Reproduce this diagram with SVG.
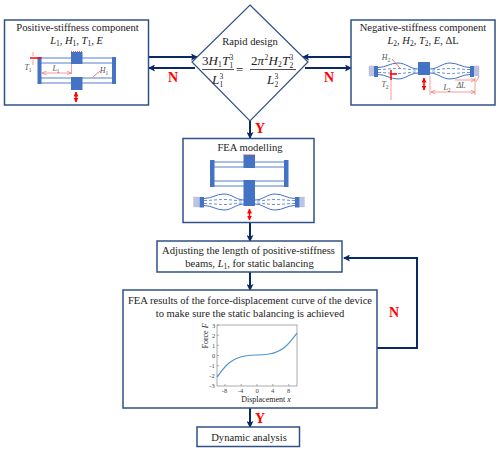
<svg xmlns="http://www.w3.org/2000/svg" xmlns:xlink="http://www.w3.org/1999/xlink" width="500" height="451" viewBox="0 0 500 451">
<style>
text{font-family:"Liberation Serif","Times New Roman",serif;fill:#222;text-anchor:middle}
.t{font-size:10.6px}
.m{font-size:10.5px;font-style:italic}
.s{font-size:7.5px;font-style:normal}
.f{font-size:13px;font-style:italic;text-anchor:start}
.fs{font-size:7.5px;font-style:normal}
.fn{font-style:normal}
.sm{font-size:8px;font-style:italic;fill:#555}
.ss{font-size:5.5px;font-style:normal}
.box{fill:#fff;stroke:#2f5187;stroke-width:1.5}
.con{fill:none;stroke:#0b2a63;stroke-width:2}
.lab{font-size:14px;font-weight:bold;fill:#f00}
.bar{fill:#4472c4}
.beam{fill:none;stroke:#8faadc;stroke-width:1.4}
.cb{fill:none;stroke:#4472c4;stroke-width:1}
.cd{fill:none;stroke:#4472c4;stroke-width:.8;stroke-dasharray:3 2}
.pale{fill:#b4c7e7;stroke:#f4a0a0;stroke-width:.6;stroke-dasharray:1 1}
.hatch{fill:none;stroke:#f05050;stroke-width:1;stroke-dasharray:1 1}
.dim{fill:none;stroke:#f79a9a;stroke-width:1}
.red{fill:none;stroke:#f00;stroke-width:1.5}
.axis{fill:none;stroke:#888;stroke-width:.7}
.tick{font-size:6.5px;fill:#444}
</style>
<defs>
<marker id="ah" markerWidth="7" markerHeight="7" refX="6" refY="3.5" orient="auto" markerUnits="userSpaceOnUse"><path d="M0,0L7,3.5L0,7L1.5,3.500Z" fill="#0b2a63"/></marker>
<marker id="rd" markerWidth="5" markerHeight="5" refX="4.5" refY="2.5" orient="auto-start-reverse" markerUnits="userSpaceOnUse"><path d="M0,0L5,2.5L0,5Z" fill="#f00"/></marker>
<marker id="pd" markerWidth="5" markerHeight="5" refX="4.5" refY="2.5" orient="auto-start-reverse" markerUnits="userSpaceOnUse"><path d="M0,.5L4.5,2.5L0,4.5" fill="none" stroke="#f57f7f" stroke-width=".8"/></marker>
<g id="curved">
<path class="cb" d="M0,-3.5C8,-3.5 12,-8 20,-8C28,-8 32,-2 40,-2"/>
<path class="cb" d="M0,3.5C8,3.5 12,8 20,8C28,8 32,2 40,2"/>
<path class="cd" d="M0,-1.5C8,-1.5 12,-2.5 20,-2.5C28,-2.5 32,-1 40,-1"/>
<path class="cd" d="M0,1.5C8,1.5 12,2.5 20,2.5C28,2.5 32,1 40,1"/>
</g>
</defs>

<g id="connectors">
<path class="con" d="M149,57H197" marker-end="url(#ah)"/>
<path class="con" d="M195,68H149" marker-end="url(#ah)"/>
<path class="con" d="M351,57H303" marker-end="url(#ah)"/>
<path class="con" d="M305,68H351" marker-end="url(#ah)"/>
<path class="con" d="M250,121V138" marker-end="url(#ah)"/>
<path class="con" d="M250,222V241" marker-end="url(#ah)"/>
<path class="con" d="M250,272V290" marker-end="url(#ah)"/>
<path class="con" d="M250,408V427" marker-end="url(#ah)"/>
<path class="con" d="M377,348H417V258H344" marker-end="url(#ah)"/>
<text class="lab" x="173" y="82">N</text>
<text class="lab" x="329" y="82">N</text>
<text class="lab" x="260" y="133">Y</text>
<text class="lab" x="260" y="423">Y</text>
<text class="lab" x="394" y="317">N</text>
</g>

<g id="positive-stiffness">
<rect class="box" x="4.5" y="20" width="144" height="85"/>
<text class="t" x="77.5" y="31">Positive-stiffness component</text>
<text class="m" x="76.5" y="43.500">L<tspan class="s" dy="2">1</tspan><tspan dy="-2" font-style="normal">, </tspan>H<tspan class="s" dy="2">1</tspan><tspan dy="-2" font-style="normal">, </tspan>T<tspan class="s" dy="2">1</tspan><tspan dy="-2" font-style="normal">, </tspan>E</text>
<path class="beam" d="M41,58H71M82,58H112M41,63H71M82,63H112M41,78H71M82,78H112M41,83H71M82,83H112"/>
<rect class="bar" x="37.5" y="57" width="4" height="27"/>
<rect class="bar" x="112" y="57" width="4" height="27"/>
<rect class="bar" x="71" y="52" width="11.5" height="12"/>
<rect class="bar" x="71" y="77" width="11.5" height="13"/>
<path class="hatch" d="M71,51.5H82.5"/>
<path class="red" d="M30,58H41.5"/>
<path class="dim" d="M33,52V56M33,60V65"/>
<path class="dim" d="M42,73H71" marker-start="url(#pd)" marker-end="url(#pd)"/>
<path class="dim" d="M71.500,64V74"/>
<path d="M93,77L100,71" fill="none" stroke="#f05050" stroke-width=".8"/>
<text class="sm" x="28" y="70">T<tspan class="ss" dy="2">1</tspan></text>
<text class="sm" x="56" y="71">L<tspan class="ss" dy="2">1</tspan></text>
<text class="sm" x="104" y="73">H<tspan class="ss" dy="2">1</tspan></text>
<path class="red" d="M76,92V102" marker-start="url(#rd)" marker-end="url(#rd)"/>
</g>

<g id="negative-stiffness">
<rect class="box" x="351" y="20" width="144" height="85"/>
<text class="t" x="423" y="31">Negative-stiffness component</text>
<text class="m" x="423" y="43.500">L<tspan class="s" dy="2">2</tspan><tspan dy="-2" font-style="normal">, </tspan>H<tspan class="s" dy="2">2</tspan><tspan dy="-2" font-style="normal">, </tspan>T<tspan class="s" dy="2">2</tspan><tspan dy="-2" font-style="normal">, </tspan>E<tspan font-style="normal">, ΔL</tspan></text>
<use xlink:href="#curved" href="#curved" x="378" y="71"/>
<use xlink:href="#curved" href="#curved" transform="translate(470,71) scale(-1,1)"/>
<rect class="pale" x="369" y="66" width="5" height="10"/>
<rect class="pale" x="474" y="66" width="5" height="10"/>
<rect class="bar" x="374" y="66" width="4" height="11"/>
<rect class="bar" x="470" y="66" width="4" height="11"/>
<rect class="bar" x="418" y="62" width="12" height="13"/>
<path class="red" d="M390,74H397M391,70V80"/>
<path class="dim" d="M391,80V100"/>
<path d="M392,59L400,68" fill="none" stroke="#f05050" stroke-width=".8"/>
<text class="sm" x="386" y="60">H<tspan class="ss" dy="2">2</tspan></text>
<text class="sm" x="385" y="87">T<tspan class="ss" dy="2">2</tspan></text>
<path class="red" d="M424,78V90" marker-start="url(#rd)" marker-end="url(#rd)"/>
<path class="dim" d="M430,76V95M475,78V95"/>
<path class="dim" d="M431,92H475" marker-start="url(#pd)" marker-end="url(#pd)"/>
<path class="dim" d="M455,80H475" marker-end="url(#pd)"/>
<path class="dim" d="M479,76L476,82"/>
<text class="sm" x="447" y="90">L<tspan class="ss" dy="2">2</tspan></text>
<text class="sm" x="461" y="88">ΔL</text>
</g>

<g id="rapid-design">
<path d="M250,5L308,62L250,121L192,62Z" fill="#fff" stroke="#2f5187" stroke-width="1.2"/>
<text class="t" x="250" y="45">Rapid design</text>
<text class="f"><tspan class="fn" x="202" y="65">3</tspan><tspan x="208.500" y="65">H</tspan><tspan class="fs" x="218" y="67">1</tspan><tspan x="222" y="65">T</tspan><tspan class="fs" x="229.500" y="67.500">1</tspan><tspan class="fs" x="229.500" y="59.500">3</tspan></text>
<path d="M202,69.500H234M250,69.500H296" stroke="#222" stroke-width=".8" fill="none"/>
<text class="f"><tspan x="212" y="84">L</tspan><tspan class="fs" x="219.500" y="86.500">1</tspan><tspan class="fs" x="219.500" y="78.500">3</tspan></text>
<text class="f fn" x="236" y="74">=</text>
<text class="f"><tspan class="fn" x="251" y="65">2</tspan><tspan x="257.500" y="65">π</tspan><tspan class="fs" x="264.500" y="59.500">2</tspan><tspan x="268.500" y="65">H</tspan><tspan class="fs" x="278" y="67">2</tspan><tspan x="282" y="65">T</tspan><tspan class="fs" x="289.500" y="67.500">2</tspan><tspan class="fs" x="289.500" y="59.500">3</tspan></text>
<text class="f"><tspan x="267" y="84">L</tspan><tspan class="fs" x="274.500" y="86.500">2</tspan><tspan class="fs" x="274.500" y="78.500">3</tspan></text>
</g>

<g id="fea-modelling">
<rect class="box" x="183" y="138.500" width="131" height="84"/>
<text class="t" x="250" y="151">FEA modelling</text>
<path class="beam" d="M214,162H244M255,162H285M214,167H244M255,167H285M214,181H244M255,181H285M214,186H244M255,186H285"/>
<rect class="bar" x="210" y="160" width="4.500" height="27"/>
<rect class="bar" x="284" y="160" width="4.500" height="27"/>
<rect class="bar" x="243.500" y="155" width="11.500" height="13"/>
<rect class="bar" x="243.500" y="180" width="11.500" height="26"/>
<path class="hatch" d="M243.500,154.500H255"/>
<use xlink:href="#curved" href="#curved" x="204" y="202"/>
<use xlink:href="#curved" href="#curved" transform="translate(295,202) scale(-1,1)"/>
<rect class="pale" x="193.500" y="197" width="5.500" height="10"/>
<rect class="pale" x="299.500" y="197" width="5" height="10"/>
<rect class="bar" x="199.500" y="197" width="4.500" height="10.500"/>
<rect class="bar" x="295" y="197" width="4.500" height="10.500"/>
<path class="red" d="M249.500,209V220" marker-start="url(#rd)" marker-end="url(#rd)"/>
</g>

<g id="adjusting">
<rect class="box" x="157" y="241" width="185" height="31"/>
<text class="t" x="248.500" y="254">Adjusting the length of positive-stiffness</text>
<text class="t" x="249.500" y="267">beams, <tspan class="m">L</tspan><tspan class="s" dy="2">1</tspan><tspan dy="-2">, for static balancing</tspan></text>
</g>

<g id="fea-results">
<rect class="box" x="123" y="290" width="254" height="118"/>
<text class="t" x="250" y="304">FEA results of the force-displacement curve of the device</text>
<text class="t" x="250" y="317">to make sure the static balancing is achieved</text>
<rect class="axis" x="217" y="325" width="80" height="61"/>
<path class="axis" d="M217,325h2M217,335.200h2M217,345.300h2M217,355.500h2M217,365.700h2M217,375.800h2M225,386v-2M241.200,386v-2M257,386v-2M272.800,386v-2M288.800,386v-2"/>
<path d="M217,376.900C221,372 224,367 229,363C234,359 240,356.800 245,356C249,355.300 253,355.100 257,355C261,354.900 265,354.700 269,354C274,353.200 280,351 285,347C290,343 293,338 297,333.100" fill="none" stroke="#4a96d2" stroke-width="1.2"/>
<g class="ticks">
<text class="tick" x="213.500" y="327.500">3</text><text class="tick" x="213.500" y="337.500">2</text><text class="tick" x="213.500" y="347.500">1</text><text class="tick" x="213.500" y="357.500">0</text><text class="tick" x="212" y="368">-1</text><text class="tick" x="212" y="378">-2</text><text class="tick" x="212" y="388">-3</text>
<text class="tick" x="224.500" y="392.500">-8</text><text class="tick" x="240.500" y="392.500">-4</text><text class="tick" x="257" y="392.500">0</text><text class="tick" x="272.500" y="392.500">4</text><text class="tick" x="288.500" y="392.500">8</text>
</g>
<text font-size="8" transform="translate(207.500,336) rotate(-90)" x="0" y="0">Force <tspan font-style="italic">F</tspan></text>
<text font-size="8" x="266" y="402">Displacement <tspan font-style="italic">x</tspan></text>
</g>

<g id="dynamic-analysis">
<rect class="box" x="197" y="427" width="102.500" height="19.500"/>
<text class="t" x="249" y="441">Dynamic analysis</text>
</g>
</svg>
